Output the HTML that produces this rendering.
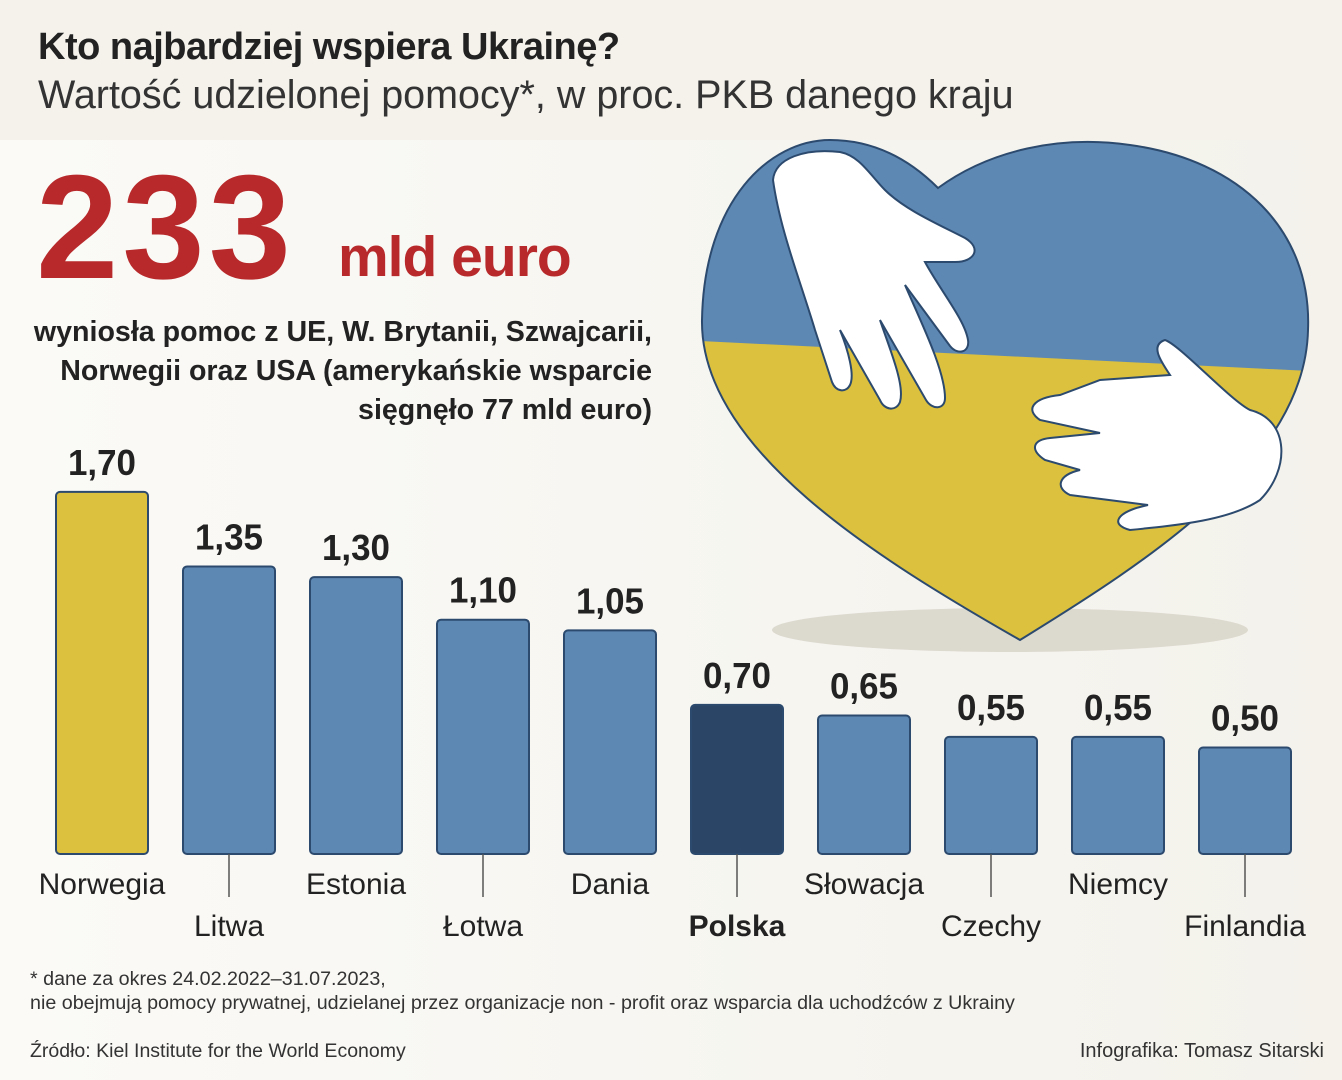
<!DOCTYPE html>
<html><head><meta charset="utf-8">
<style>
body{margin:0;width:1342px;height:1080px;overflow:hidden;background:#f4f2eb;font-family:"Liberation Sans",sans-serif;color:#222;}
#bg{position:absolute;left:0;top:140px;width:1342px;height:940px;background:linear-gradient(90deg,#fbfaf7 0%,#f6f5f0 60%,#f4f2eb 100%);}
.t{position:absolute;white-space:nowrap;}
</style></head><body>
<div id="bg"></div>
<div class="t" style="left:38px;top:26px;font-size:38px;font-weight:bold;color:#222;letter-spacing:-0.5px;">Kto najbardziej wspiera Ukrainę?</div>
<div class="t" style="left:38px;top:73px;font-size:39.5px;color:#333;">Wartość udzielonej pomocy*, w proc. PKB danego kraju</div>
<div class="t" style="left:36px;top:143px;font-size:148px;font-weight:bold;color:#b8292b;letter-spacing:4px;">233</div>
<div class="t" style="left:338px;top:224px;font-size:57px;font-weight:bold;color:#b8292b;letter-spacing:-1px;">mld euro</div>
<div class="t" style="right:690px;top:313px;font-size:28.6px;font-weight:bold;line-height:39px;text-align:right;color:#222;">wyniosła pomoc z UE, W. Brytanii, Szwajcarii,<br>Norwegii oraz USA (amerykańskie wsparcie<br>sięgnęło 77 mld euro)</div>

<svg width="1342" height="1080" style="position:absolute;left:0;top:0">
<defs><clipPath id="low"><polygon points="680,340 1330,372 1330,700 680,700"/></clipPath>
<path id="hp" d="M1020,640 C880,560 700,450 702,320 C704,200 770,140 830,140 C880,140 915,165 938,188 C990,150 1060,135 1130,145 C1240,160 1312,230 1308,330 C1305,460 1150,560 1020,640 Z"/></defs>
<ellipse cx="1010" cy="630" rx="238" ry="22" fill="#dcd9cf"/>
<use href="#hp" fill="#5e88b4"/>
<use href="#hp" fill="#dcc13e" clip-path="url(#low)"/>
<use href="#hp" fill="none" stroke="#2c4a6e" stroke-width="2"/>
<path d="M773,180 C775,158 805,148 840,152 C860,156 870,175 885,190 C905,210 940,225 965,238 C982,248 975,262 955,262 L925,262 C940,290 965,320 968,340 C970,352 958,356 950,346 L905,285 C920,320 945,370 945,398 C945,410 932,410 926,400 L880,320 C890,350 905,385 900,402 C896,412 884,410 880,400 L840,330 C848,350 855,375 850,385 C846,393 836,392 832,382 L815,330 C800,280 780,230 773,180 Z" fill="#fff" stroke="#2c4a6e" stroke-width="2"/>
<path d="M1165,340 C1180,345 1230,400 1250,410 C1290,420 1290,470 1260,500 C1230,520 1180,525 1130,530 C1110,525 1115,512 1148,505 L1070,495 C1055,488 1058,475 1080,470 L1045,460 C1030,450 1032,440 1050,438 L1100,433 L1040,420 C1025,410 1032,398 1060,395 L1100,380 L1170,375 C1160,360 1150,345 1165,340 Z" fill="#fff" stroke="#2c4a6e" stroke-width="2"/>
<g id="chart"></g>
</svg>

<div class="t" style="left:30px;top:967px;font-size:19.7px;line-height:24px;color:#333;">* dane za okres 24.02.2022–31.07.2023,<br>nie obejmują pomocy prywatnej, udzielanej przez organizacje non - profit oraz wsparcia dla uchodźców z Ukrainy</div>
<div class="t" style="left:30px;top:1040px;font-size:19.5px;color:#333;">Źródło: Kiel Institute for the World Economy</div>
<div class="t" style="right:18px;top:1040px;font-size:20px;color:#333;">Infografika: Tomasz Sitarski</div>

<script>
const categories=["Norwegia","Litwa","Estonia","Łotwa","Dania","Polska","Słowacja","Czechy","Niemcy","Finlandia"];
const values=[1.70,1.35,1.30,1.10,1.05,0.70,0.65,0.55,0.55,0.50];
const valueLabels=["1,70","1,35","1,30","1,10","1,05","0,70","0,65","0,55","0,55","0,50"];
const NS="http://www.w3.org/2000/svg";
const g=document.getElementById('chart');
const baseY=854, pxPerUnit=213, x0=56, step=127, bw=92;
function xPos(i){return x0+i*step;}
function yPos(v){return baseY-v*pxPerUnit;}
function mk(t,a){const e=document.createElementNS(NS,t);for(const k in a)e.setAttribute(k,a[k]);g.appendChild(e);return e;}
categories.forEach((c,i)=>{
  const x=xPos(i),y=yPos(values[i]);
  const fill=i===0?'#dcc13e':(c==='Polska'?'#2b4566':'#5e88b4');
  const r=mk('rect',{x:x,y:y,width:bw,height:baseY-y,rx:4,fill:fill,stroke:'#2c4a6e','stroke-width':2});
  
  
  const t=mk('text',{x:x+bw/2,y:y-17,'text-anchor':'middle','font-size':36,'font-weight':'bold',fill:'#222',textLength:68,lengthAdjust:'spacingAndGlyphs'});
  t.textContent=valueLabels[i];
  
  
  const odd=i%2===1;
  if(odd){const l=mk('line',{x1:x+bw/2,x2:x+bw/2,y1:baseY,y2:897,stroke:'#555','stroke-width':1.5});
    
    }
  const ct=mk('text',{x:x+bw/2,y:odd?936:894,'text-anchor':'middle','font-size':30,'font-weight':c==='Polska'?'bold':'normal',fill:'#222'});
  ct.textContent=c;
  
  
});
</script>
</body></html>
